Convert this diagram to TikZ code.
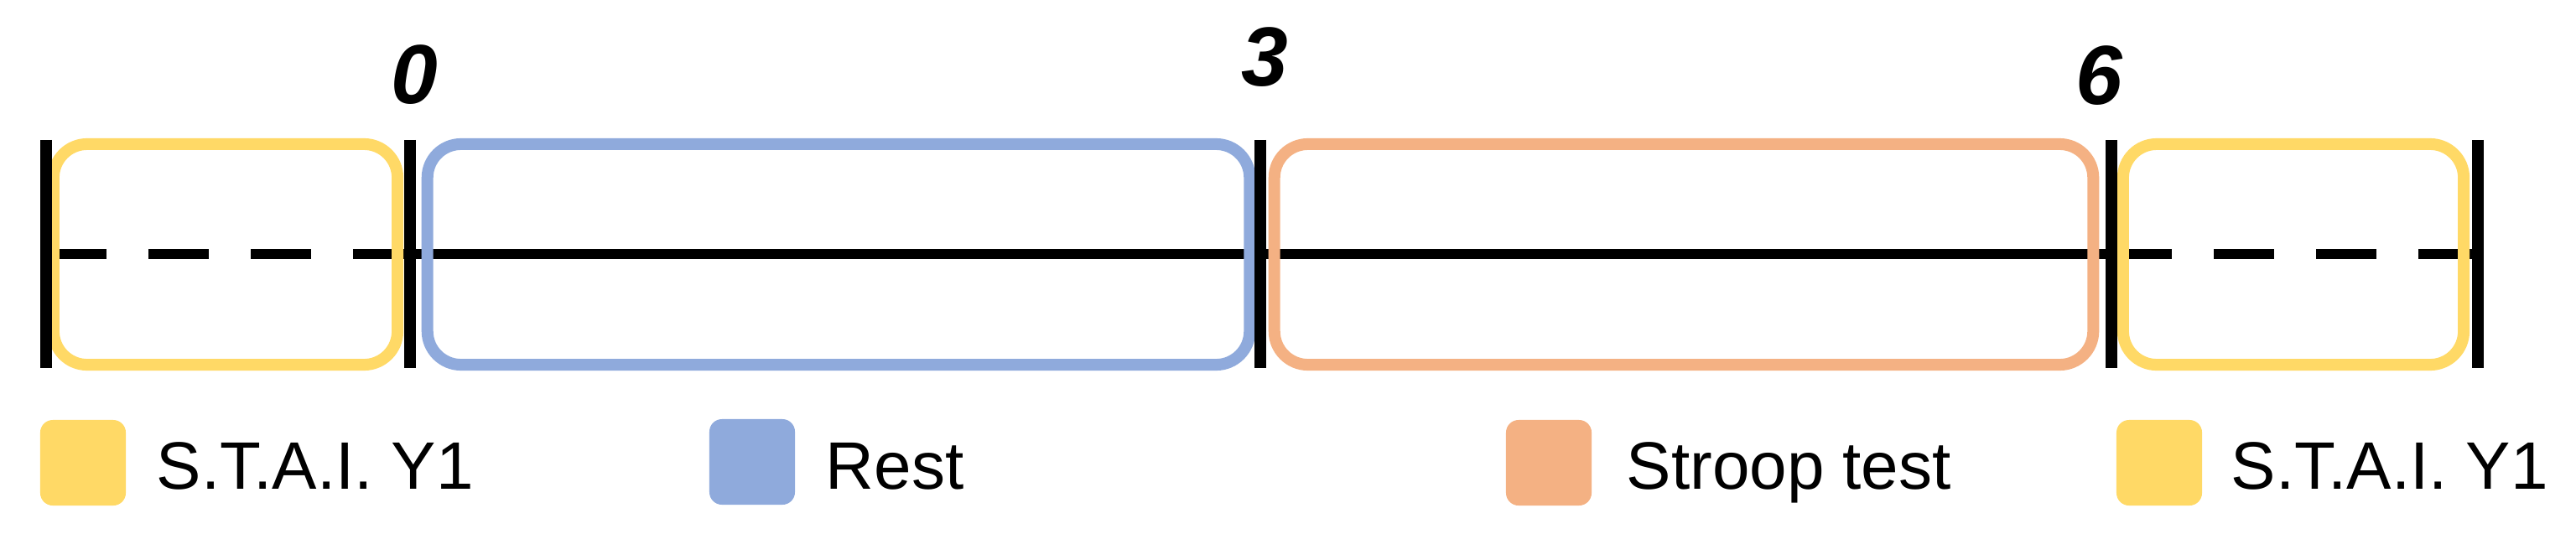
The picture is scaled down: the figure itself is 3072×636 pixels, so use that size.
\documentclass[tikz,border=0pt]{standalone}
\usepackage{fontspec}
\setmainfont{Liberation Sans}
\definecolor{styellow}{HTML}{FFD966}
\definecolor{stblue}{HTML}{8FAADC}
\definecolor{storange}{HTML}{F4B183}
\begin{document}
\begin{tikzpicture}[x=0.01cm,y=-0.01cm,
  phase/.style={draw=#1, line width=0.14cm, rounded corners=0.4cm, minimum height=2.63cm, inner sep=0, outer sep=0},
  tickline/.style={line width=0.14cm},
  axis/.style={line width=0.12cm},
  axisdash/.style={axis, dash pattern=on 0.72cm off 0.5cm},
  timelabel/.style={font=\fontsize{28.45}{30}\selectfont\bfseries\itshape, inner sep=0, anchor=base},
  legsq/.style={fill=#1, rounded corners=0.15cm, minimum width=1.02cm, minimum height=1.02cm, inner sep=0},
  legtext/.style={font=\fontsize{22.76}{26}\selectfont, inner sep=0, anchor=base west}]
\useasboundingbox (0,0) rectangle (3072,636);
% time points
\coordinate (tL) at (55,303);
\coordinate (t0) at (489,303);
\coordinate (t3) at (1503,303);
\coordinate (t6) at (2518,303);
\coordinate (tR) at (2955,303);
% axis
\draw[axisdash] (tL) -- (t0);
\draw[axis] (t0) -- (t6);
\draw[axisdash] (t6) -- (tR);
% phases
\node[phase=styellow, minimum width=4.10cm] (s1) at (269,303.5) {};
\node[phase=stblue, minimum width=9.80cm] (rest) at (1000,303.5) {};
\node[phase=storange, minimum width=9.76cm] (stroop) at (2008,303.5) {};
\node[phase=styellow, minimum width=4.06cm] (s2) at (2735,303.5) {};
% ticks
\foreach \t in {tL,t0,t3,t6,tR}
  \draw[tickline] ([yshift=1.36cm]\t) -- ([yshift=-1.36cm]\t);
% labels
\node[timelabel] (l0) at (494,123) {0};
\node[timelabel] (l3) at (1508,102) {3};
\node[timelabel] (l6) at (2503,124) {6};
% legend
\node[legsq=styellow] (k1) at (99,552) {};
\node[legtext] (k1t) at (186,583) {S.T.A.I. Y1};
\node[legsq=stblue] (k2) at (897,551) {};
\node[legtext] (k2t) at (984,583) {Rest};
\node[legsq=storange] (k3) at (1847,552) {};
\node[legtext] (k3t) at (1939,583) {Stroop test};
\node[legsq=styellow] (k4) at (2575,552) {};
\node[legtext] (k4t) at (2660,583) {S.T.A.I. Y1};
\end{tikzpicture}
\end{document}
